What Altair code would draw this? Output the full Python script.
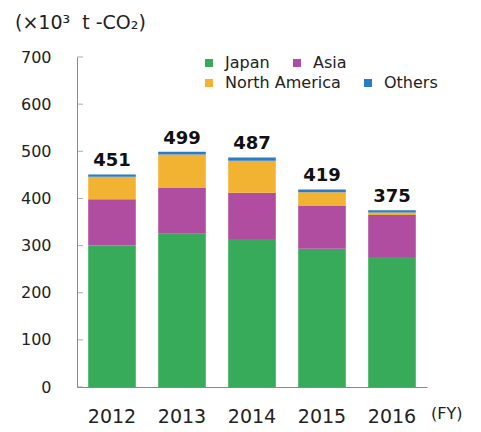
import altair as alt
import pandas as pd

years = ["2012", "2013", "2014", "2015", "2016"]
japan = [300, 325, 314, 293, 276]
asia = [98, 98, 98, 92, 89]
north_america = [48, 70, 68, 28, 5]
others = [5, 6, 7, 6, 5]
totals = [451, 499, 487, 419, 375]
regions = ["Japan", "Asia", "North America", "Others"]
colors = ["#37ab59", "#b04da0", "#f2b332", "#2b7bc5"]
y_ticks = [0, 100, 200, 300, 400, 500, 600, 700]

FONT = "DejaVu Sans"

rows = []
for i, y in enumerate(years):
    for k, (name, vals) in enumerate(zip(regions, [japan, asia, north_america, others])):
        rows.append({"year": y, "region": name, "value": vals[i], "order": k})
df = pd.DataFrame(rows)
tot = pd.DataFrame({"year": years, "total": totals})
ticks = pd.DataFrame({"v": y_ticks})
fy = pd.DataFrame({"label": ["(FY)"]})

x_enc = alt.X(
    "year:N",
    sort=years,
    scale=alt.Scale(paddingInner=0.32, paddingOuter=0.16),
    axis=alt.Axis(
        title=None, labelAngle=0, tickSize=0, labelFontSize=19, labelFont=FONT,
        labelColor="#222222", labelPadding=20, domainColor="#8a8a8a",
    ),
)
y_scale = alt.Scale(domain=[0, 700], nice=False)


def legend_row(values, ly):
    return alt.Legend(
        title=None, orient="none", legendX=124, legendY=ly, direction="horizontal",
        values=values, symbolType="square", symbolSize=64, symbolStrokeWidth=0,
        symbolOpacity=1, labelFontSize=16, labelFont=FONT, labelColor="#222222",
        columnPadding=19, labelOffset=8,
    )


bars = alt.Chart(df).mark_bar().encode(
    x=x_enc,
    y=alt.Y(
        "sum(value):Q",
        scale=y_scale,
        axis=alt.Axis(
            title=None, values=y_ticks, tickSize=0, labelPadding=26, grid=False,
            labelFontSize=16, labelFont=FONT, labelColor="#222222",
            domainColor="#8a8a8a",
        ),
    ),
    color=alt.Color(
        "region:N",
        scale=alt.Scale(domain=regions, range=colors),
        legend=legend_row(["Japan", "Asia"], -2),
    ),
    order=alt.Order("order:Q", sort="ascending"),
)

legend2 = alt.Chart(df).mark_square(size=0, opacity=0).encode(
    x=alt.X("year:N", sort=years),
    y=alt.Y("value:Q", scale=y_scale),
    fill=alt.Fill(
        "region:N",
        scale=alt.Scale(domain=regions, range=colors),
        legend=legend_row(["North America", "Others"], 18),
    ),
)

labels = alt.Chart(tot).mark_text(
    fontSize=18, fontWeight="bold", font=FONT, baseline="alphabetic", dy=-8, color="#111111"
).encode(
    x=alt.X("year:N", sort=years),
    y=alt.Y("total:Q", scale=y_scale),
    text="total:Q",
)

tick_marks = alt.Chart(ticks).mark_tick(size=6, thickness=1, color="#8a8a8a", orient="horizontal").encode(
    y=alt.Y("v:Q", scale=y_scale),
    x=alt.value(3),
)

fy_text = alt.Chart(fy).mark_text(
    fontSize=16, font=FONT, align="left", baseline="middle", color="#222222"
).encode(
    x=alt.value(354),
    y=alt.value(357),
    text="label:N",
)

chart = alt.layer(bars, legend2, labels, tick_marks, fy_text).resolve_scale(
    color="independent", fill="independent"
).properties(
    width=350,
    height=330,
    autosize=alt.AutoSizeParams(type="none"),
    padding={"left": 77, "top": 57, "right": 54, "bottom": 45},
    title=alt.TitleParams(
        "(×10³\u00a0\u00a0t -CO₂)", anchor="start", frame="group", fontSize=19, font=FONT,
        fontWeight="normal", color="#222222", dx=-62, offset=16,
    ),
).configure_view(stroke=None)

chart.save("out.html", embed_options={"renderer": "svg", "actions": False})
